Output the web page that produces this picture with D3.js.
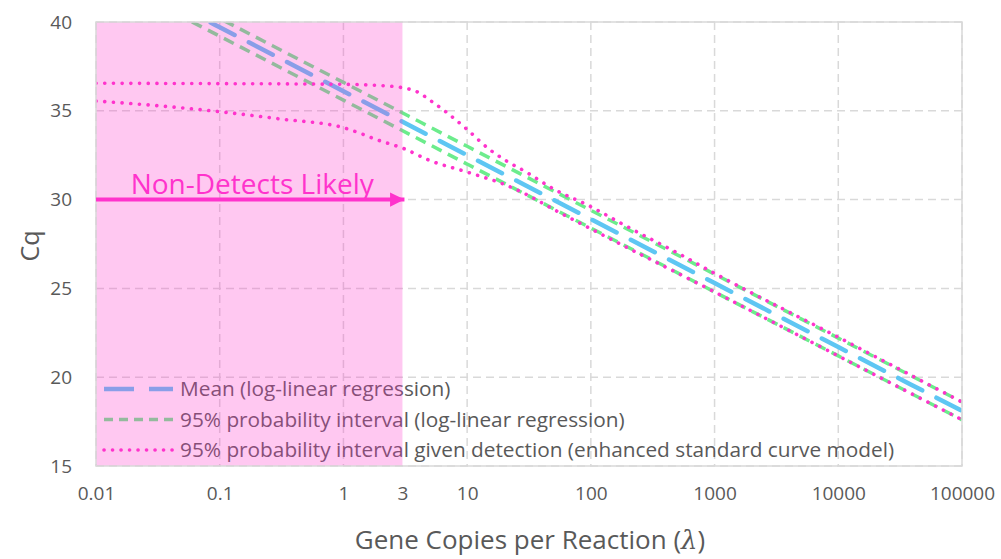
<!DOCTYPE html>
<meta charset="utf-8">
<script src="https://d3js.org/d3.v7.min.js"></script>
<style>
  body { margin: 0; background: #fff; }
  text { font-family: "Open Sans", sans-serif; }
</style>
<div id="chart"></div>
<script>

// values
var lambdaFit = [0.01, 0.1, 1, 10, 100, 1000, 10000, 100000];
var meanCq    = [43.3, 39.7, 36.1, 32.5, 28.9, 25.3, 21.7, 18.1];
var upperPI   = [43.8, 40.2, 36.6, 33.0, 29.4, 25.8, 22.2, 18.6];
var lowerPI   = [42.8, 39.2, 35.6, 32.0, 28.4, 24.8, 21.2, 17.6];

var lambdaDet = [0.01, 0.1, 1, 2, 3, 4, 5, 7, 10, 15, 20, 30, 50, 100, 200, 500, 1000, 10000, 100000];
var upperDet  = [36.55, 36.53, 36.49, 36.42, 36.3, 36.05, 35.6, 34.85, 33.95, 32.85, 32.25, 31.55, 30.6, 29.6, 28.45, 27.0, 25.85, 22.25, 18.6];
var lambdaLow = [0.01, 0.03, 0.1, 0.3, 1, 2, 3, 5, 10, 20, 30, 50, 100, 1000, 10000, 100000];
var lowerDet  = [35.55, 35.3, 34.95, 34.55, 34.05, 33.3, 32.9, 32.2, 31.55, 30.85, 30.3, 29.45, 28.35, 24.8, 21.2, 17.6];

var xTicks = [0.01, 0.1, 1, 3, 10, 100, 1000, 10000, 100000];
var xGrid = [0.01, 0.1, 1, 10, 100, 1000, 10000, 100000];
var yTicks = [15, 20, 25, 30, 35, 40];
var nonDetectLimit = 3;
var arrowCq = 30;

var legendLabels = [
  "Mean (log-linear regression)",
  "95% probability interval (log-linear regression)",
  "95% probability interval given detection (enhanced standard curve model)"
];

var W = 1001, H = 559;
var margin = {top: 22, right: 39, bottom: 93, left: 96};
var width = W - margin.left - margin.right,
    height = H - margin.top - margin.bottom;

var blue = "#5ec6f3", green = "#6cec8c", pink = "#ff33cc";

var svg = d3.select("#chart").append("svg")
    .attr("width", W).attr("height", H)
  .append("g")
    .attr("transform", "translate(" + margin.left + "," + margin.top + ")");

var x = d3.scaleLog().domain([0.01, 100000]).range([0, width]);
var y = d3.scaleLinear().domain([15, 40]).range([height, 0]);

svg.append("clipPath").attr("id", "clip")
  .append("rect").attr("width", width).attr("height", height);

// grid
svg.selectAll(".hgrid").data(yTicks).enter().append("line")
    .attr("x1", 0).attr("x2", width)
    .attr("y1", function (d) { return y(d); }).attr("y2", function (d) { return y(d); })
    .style("stroke", "#d9d9d9").style("stroke-width", 1.5).style("stroke-dasharray", "8,5");
svg.selectAll(".vgrid").data(xGrid).enter().append("line")
    .attr("y1", 0).attr("y2", height)
    .attr("x1", function (d) { return x(d); }).attr("x2", function (d) { return x(d); })
    .style("stroke", "#d9d9d9").style("stroke-width", 1.5).style("stroke-dasharray", "8,5");

// axes
var xAxis = svg.append("g")
    .attr("transform", "translate(0," + height + ")")
    .call(d3.axisBottom(x).tickValues(xTicks).tickSize(0).tickPadding(21)
      .tickFormat(function (d) { return d < 1 ? String(d) : d3.format("d")(d); }));
var yAxis = svg.append("g")
    .call(d3.axisLeft(y).tickValues(yTicks).tickSize(0).tickPadding(24));
[xAxis, yAxis].forEach(function (a) {
  a.select(".domain").remove();
  a.selectAll("text").style("font-size", "19px").style("fill", "#595959")
    .style("font-family", "'Open Sans', sans-serif");
});

// curves
function curve(xs, ys) {
  return d3.line()
    .x(function (d, i) { return x(xs[i]); })
    .y(function (d) { return y(d); })
    .curve(d3.curveMonotoneX)(ys);
}
var lines = svg.append("g").attr("clip-path", "url(#clip)");
[upperPI, lowerPI].forEach(function (s) {
  lines.append("path").attr("d", curve(lambdaFit, s))
    .style("fill", "none").style("stroke", green).style("stroke-width", 3.5)
    .style("stroke-dasharray", "11,7");
});
lines.append("path").attr("d", curve(lambdaFit, meanCq))
  .style("fill", "none").style("stroke", blue).style("stroke-width", 4.5)
  .style("stroke-linecap", "round").style("stroke-dasharray", "27,16");
lines.append("path").attr("d", curve(lambdaDet, upperDet))
  .style("fill", "none").style("stroke", pink).style("stroke-width", 3.6)
  .style("stroke-linecap", "round").style("stroke-dasharray", "0.1,8.6");
lines.append("path").attr("d", curve(lambdaLow, lowerDet))
  .style("fill", "none").style("stroke", pink).style("stroke-width", 3.6)
  .style("stroke-linecap", "round").style("stroke-dasharray", "0.1,8.6");

// legend
var legend = svg.append("g").attr("transform", "translate(7," + (height - 77) + ")");
var swatches = [
  {c: blue, w: 4.5, dash: "30,15", cap: "butt"},
  {c: green, w: 3.5, dash: "9,6", cap: "butt"},
  {c: pink, w: 3.6, dash: "0.1,8.4", cap: "round"}
];
legendLabels.forEach(function (lab, i) {
  var g = legend.append("g").attr("transform", "translate(0," + (i * 30.5) + ")");
  g.append("line").attr("x1", 1).attr("x2", 70).attr("y1", 0).attr("y2", 0)
    .style("stroke", swatches[i].c).style("stroke-width", swatches[i].w)
    .style("stroke-dasharray", swatches[i].dash).style("stroke-linecap", swatches[i].cap);
  g.append("text").attr("x", 77).attr("y", 0).attr("dy", "0.35em")
    .style("font-size", "20.8px").style("fill", "#595959").text(lab);
});

// non-detect region
svg.append("rect")
    .attr("x", 0).attr("y", 0)
    .attr("width", x(nonDetectLimit)).attr("height", height)
    .style("fill", pink).style("fill-opacity", 0.27);

// plot border
svg.append("rect").attr("width", width).attr("height", height)
    .style("fill", "none").style("stroke", "#d9d9d9").style("stroke-width", 1.5);

// arrow
var defs = svg.append("defs");
defs.append("marker").attr("id", "arrow")
    .attr("viewBox", "0 0 10 10").attr("refX", 10).attr("refY", 5)
    .attr("markerWidth", 3.6).attr("markerHeight", 3.6).attr("markerUnits", "strokeWidth")
    .attr("orient", "auto")
  .append("path").attr("d", "M0,0L10,5L0,10z").style("fill", pink);
svg.append("line")
    .attr("x1", x(0.01)).attr("x2", x(nonDetectLimit) + 2)
    .attr("y1", y(arrowCq)).attr("y2", y(arrowCq))
    .style("stroke", pink).style("stroke-width", 4)
    .attr("marker-end", "url(#arrow)");
svg.append("text")
    .attr("x", x(0.01) + (x(nonDetectLimit) - x(0.01)) / 2 + 3)
    .attr("y", y(arrowCq) - 6)
    .attr("text-anchor", "middle")
    .style("font-size", "28px").style("fill", pink)
    .text("Non-Detects Likely");

// axis titles
svg.append("text")
    .attr("transform", "translate(" + (-66) + "," + (height / 2 + 2) + ") rotate(-90)")
    .attr("text-anchor", "middle").attr("dy", "0.35em")
    .style("font-size", "25px").style("fill", "#595959")
    .text("Cq");
var xt = svg.append("text")
    .attr("x", 434).attr("y", height + 83)
    .attr("text-anchor", "middle")
    .style("font-size", "26px").style("fill", "#595959")
    .text("Gene Copies per Reaction (");
xt.append("tspan").style("font-style", "italic").style("font-family", "'DejaVu Serif', serif").text("λ");
xt.append("tspan").text(")");
</script>
